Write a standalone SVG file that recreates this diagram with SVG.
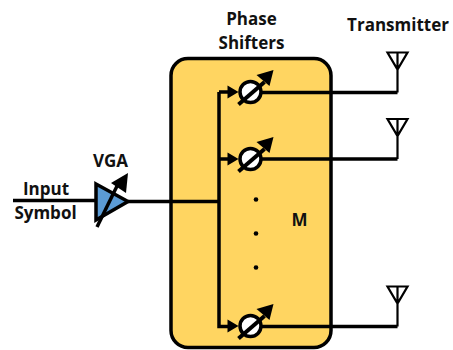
<svg xmlns="http://www.w3.org/2000/svg" width="453" height="350" viewBox="0 0 453 350">
<style>
text{font-family:"Open Sans","Liberation Sans",sans-serif;font-weight:700;fill:#111;font-size:17px;text-anchor:middle}
.w{fill:none;stroke:#000;stroke-width:3.5}
.t{fill:none;stroke:#000;stroke-width:2.2}
.ps{fill:#fff;stroke:#000;stroke-width:3.5}
.bar{stroke:#000;stroke-width:4;fill:none}
</style>
<defs>
<g id="phase">
<circle class="ps" cx="0" cy="0" r="10.5"/>
<path d="M-12 12.500L14-10" class="bar"/>
<path d="M23-22L6-17L19-6Z" fill="#000"/>
<path d="M-12 0L-23-6.500V6.500Z" fill="#000"/>
</g>
<g id="ant">
<path class="t" d="M0 0V-40M-10-40H10L0-23Z"/>
</g>
</defs>
<g id="block"><rect x="171" y="58.500" width="160" height="289" rx="17" fill="#ffd561" stroke="#000" stroke-width="3.500"/></g>
<g id="connectors">
<path class="w" d="M13 200.500H95M128 201.500H219"/>
<path class="w" d="M219 92V326.500H232"/>
<path class="w" d="M219 92H232M219 159H232"/>
<path class="w" d="M255 92.500H397.500"/>
<path class="w" d="M255 159H397.500"/>
<path class="w" d="M255 326.500H397.500"/>
</g>
<g id="vga">
<path d="M96 184L128 201.500L96 220Z" fill="#5b9bd5" stroke="#000" stroke-width="3.500"/>
<path d="M97 227L118 184" stroke="#000" stroke-width="3.500" fill="none"/>
<path d="M128 173L111 183L126 193Z" fill="#000"/>
</g>
<g id="ps1"><use href="#phase" x="250.500" y="92"/></g>
<g id="ps2"><use href="#phase" x="250.500" y="159"/></g>
<g id="ps3"><use href="#phase" x="250.500" y="326"/></g>
<g id="ant1"><use href="#ant" x="397.500" y="92.500"/></g>
<g id="ant2"><use href="#ant" x="397.500" y="159"/></g>
<g id="ant3"><use href="#ant" x="397.500" y="326.500"/></g>
<g id="dots" fill="#000"><circle cx="256" cy="199.500" r="2.300"/><circle cx="256" cy="233.500" r="2.300"/><circle cx="256" cy="267.500" r="2.300"/></g>
<g id="labels">
<text x="251.500" y="25">Phase</text>
<text x="251.500" y="49">Shifters</text>
<text x="398" y="31">Transmitter</text>
<text x="110.500" y="167">VGA</text>
<text x="46" y="195">Input</text>
<text x="45.500" y="219">Symbol</text>
<text x="299.500" y="226">M</text>
</g>
</svg>
